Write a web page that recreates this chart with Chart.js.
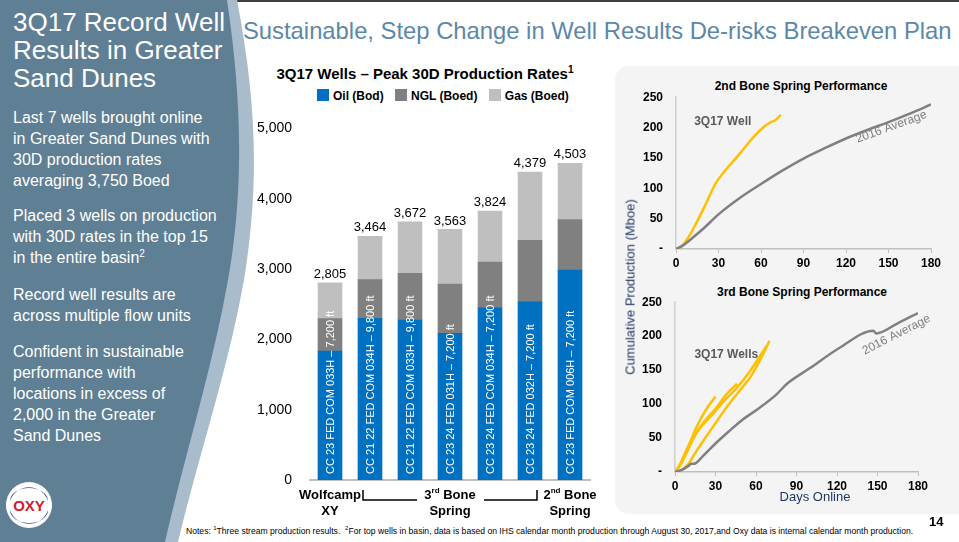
<!DOCTYPE html>
<html>
<head>
<meta charset="utf-8">
<script src="https://cdn.jsdelivr.net/npm/chart.js@4.4.0/dist/chart.umd.min.js"></script>
<style>
  html, body { margin: 0; padding: 0; }
  body { width: 959px; height: 542px; position: relative; overflow: hidden; background: #fff;
         font-family: "Liberation Sans", Arial, sans-serif; }
  .abs { position: absolute; }
  #topbar { left: 0; top: 0; width: 959px; height: 2px; background: #404040; }
  #leftTitle { left: 13px; top: 8px; color: #fff; font-size: 26px; line-height: 28px; white-space: nowrap; }
  .bullet { left: 13px; color: #fff; font-size: 16px; line-height: 21px; white-space: nowrap; }
  #header { left: 243px; top: 17px; color: #5b87a8; font-size: 23.8px; white-space: nowrap; }
  #barTitle { left: 240px; width: 370px; top: 65px; text-align: center; font-weight: bold; font-size: 15px; }
  #barLegend { left: 317px; top: 89px; font-weight: bold; font-size: 12px; white-space: nowrap; }
  #barLegend span.box { display: inline-block; width: 12px; height: 12px; vertical-align: -1px; margin-right: 4px; }
  #barLegend span.item { margin-right: 8px; }
  #rightPanel { left: 615px; top: 66px; width: 370px; height: 448px; background: #f4f4f4; border-radius: 14px; }
  .lineTitle { font-weight: bold; font-size: 12px; text-align: center; width: 260px; white-space: nowrap; }
  #yTitle { left: 630px; top: 287px; color: #203864; font-size: 13px; white-space: nowrap;
            transform: translate(-50%, -50%) rotate(-90deg); }
  #xTitle { left: 760px; width: 110px; top: 489px; text-align: center; color: #203864; font-size: 13px; }
  #notes { left: 186px; top: 525px; font-size: 8.6px; white-space: nowrap; }
  #pageNo { left: 929px; top: 514px; font-weight: bold; font-size: 13px; }
</style>
</head>
<body>
<div id="topbar" class="abs"></div>

<svg class="abs" style="left:0;top:0" width="270" height="542">
  <path d="M0,0 L237,0 C256,100 260,180 244,280 C228,370 200,450 178,542 L0,542 Z" fill="#a9bccb"/>
  <path d="M0,0 L227,0 C242,100 244,190 228,280 C212,370 186,450 165,542 L0,542 Z" fill="#5f7f95"/>
</svg>

<div id="leftTitle" class="abs">3Q17 Record Well<br>Results in Greater<br>Sand Dunes</div>
<div class="abs bullet" style="top:107px">Last 7 wells brought online<br>in Greater Sand Dunes with<br>30D production rates<br>averaging 3,750 Boed</div>
<div class="abs bullet" style="top:205px">Placed 3 wells on production<br>with 30D rates in the top 15<br>in the entire basin<sup style="font-size:10px;line-height:0">2</sup></div>
<div class="abs bullet" style="top:284px">Record well results are<br>across multiple flow units</div>
<div class="abs bullet" style="top:341px">Confident in sustainable<br>performance with<br>locations in excess of<br>2,000 in the Greater<br>Sand Dunes</div>

<svg class="abs" style="left:5px;top:481px" width="50" height="50">
  <circle cx="24" cy="24" r="23" fill="#fff"/>
  <path d="M5,20 A20,20 0 0 1 43,20 A19,13 0 0 0 5,20 Z" fill="#2a4f9a"/>
  <path d="M5,29 A20,20 0 0 0 43,29 A19,13 0 0 1 5,29 Z" fill="#2a4f9a"/>
  <text x="24" y="30" text-anchor="middle" font-family="Liberation Sans" font-weight="bold" font-size="15" fill="#d0202e">OXY</text>
</svg>

<div id="header" class="abs">Sustainable, Step Change in Well Results De-risks Breakeven Plan</div>

<div id="barTitle" class="abs">3Q17 Wells – Peak 30D Production Rates<sup style="font-size:10px;line-height:0">1</sup></div>
<div id="barLegend" class="abs">
  <span class="item"><span class="box" style="background:#0070c0"></span>Oil (Bod)</span>
  <span class="item"><span class="box" style="background:#808080"></span>NGL (Boed)</span>
  <span class="item"><span class="box" style="background:#bfbfbf"></span>Gas (Boed)</span>
</div>
<div class="abs" style="left:240px;top:102px;width:370px;height:418px">
  <canvas id="barChart" width="370" height="418"></canvas>
</div>

<div id="rightPanel" class="abs"></div>
<div class="abs lineTitle" style="left:671px;top:79px">2nd Bone Spring Performance</div>
<div class="abs lineTitle" style="left:672px;top:285px">3rd Bone Spring Performance</div>
<div class="abs" style="left:620px;top:77px;width:330px;height:198px">
  <canvas id="line2bs" width="330" height="198"></canvas>
</div>
<div class="abs" style="left:620px;top:282px;width:320px;height:216px">
  <canvas id="line3bs" width="320" height="216"></canvas>
</div>
<div id="yTitle" class="abs">Cumulative Production (Mboe)</div>
<div id="xTitle" class="abs">Days Online</div>

<div id="notes" class="abs">Notes: <sup style="font-size:6px">1</sup>Three stream production results.&nbsp; <sup style="font-size:6px">2</sup>For top wells in basin, data is based on IHS calendar month production through August 30, 2017,and Oxy data is internal calendar month production.</div>
<div id="pageNo" class="abs">14</div>

<script>
// bar chart data
const wellNames = [
  "CC 23 FED COM 033H – 7,200 ft",
  "CC 21 22 FED COM 034H – 9,800 ft",
  "CC 21 22 FED COM 033H – 9,800 ft",
  "CC 23 24 FED 031H – 7,200 ft",
  "CC 23 24 FED COM 034H – 7,200 ft",
  "CC 23 24 FED 032H – 7,200 ft",
  "CC 23 FED COM 006H – 7,200 ft"
];
const oilBod = [1835, 2300, 2275, 2085, 2450, 2535, 2985];
const nglBoed = [460, 550, 665, 700, 650, 875, 720];
const gasBoed = [510, 614, 732, 778, 724, 969, 798];
const totalLabels = ["2,805", "3,464", "3,672", "3,563", "3,824", "4,379", "4,503"];

// 2nd Bone Spring cumulative (Mboe)
const avg2bsDays = [0, 5, 13, 20, 30, 45, 60, 75, 90, 105, 120, 135, 150, 165, 180];
const avg2bsMboe = [0, 6, 21, 35, 57, 84, 107, 129, 149, 166, 182, 196, 209, 223, 238];
const well2bsDays = [0, 3, 5, 10, 15, 20, 28, 35, 45, 55, 63, 67, 70, 74];
const well2bsMboe = [0, 3, 7, 24, 46, 69, 108, 130, 157, 185, 203, 209, 212, 221];

// 3rd Bone Spring cumulative (Mboe)
const avg3bsDays = [0, 5, 10, 12, 14, 20, 30, 40, 50, 63, 75, 83, 100, 122, 147, 149, 165, 180];
const avg3bsMboe = [0, 3, 9, 12, 12, 22, 42, 60, 77, 95, 114, 130, 153, 183, 208, 204, 219, 234];
const wellA3bsDays = [0, 3, 7, 11, 15, 19, 24, 30];
const wellA3bsMboe = [0, 8, 25, 43, 62, 78, 95, 111];
const wellB3bsDays = [0, 4, 9, 16, 22, 30, 38, 46];
const wellB3bsMboe = [0, 10, 30, 58, 75, 93, 114, 130];
const wellC3bsDays = [0, 5, 10, 15, 20, 30, 40, 50, 56, 63, 70];
const wellC3bsMboe = [0, 3, 12, 28, 43, 72, 100, 125, 140, 165, 193];
const wellD3bsDays = [0, 4, 8, 13, 20, 28, 36, 45, 55, 62, 68];
const wellD3bsMboe = [0, 12, 30, 50, 68, 85, 104, 122, 147, 168, 186];

const xyPairs = (xs, ys) => xs.map((x, i) => ({ x: x, y: ys[i] }));

// labels written on and under the bars
const barLabels = {
  id: "barLabels",
  afterDatasetsDraw(chart) {
    const ctx = chart.ctx;
    const oilMeta = chart.getDatasetMeta(0);
    const gasMeta = chart.getDatasetMeta(2);
    oilMeta.data.forEach((bar, i) => {
      ctx.save();
      ctx.translate(bar.x + 1, bar.base - 6);
      ctx.rotate(-Math.PI / 2);
      ctx.fillStyle = "#fff";
      ctx.font = '11px "Liberation Sans"';
      ctx.textAlign = "left";
      ctx.textBaseline = "middle";
      ctx.fillText(wellNames[i], 0, 0);
      ctx.restore();

      const top = gasMeta.data[i];
      ctx.save();
      ctx.fillStyle = "#000";
      ctx.font = '13px "Liberation Sans"';
      ctx.textAlign = "center";
      ctx.textBaseline = "bottom";
      ctx.fillText(totalLabels[i], top.x, top.y - 2);
      ctx.restore();
    });

    // formation groups below the axis
    const xs = chart.scales.x;
    const y0 = chart.chartArea.bottom;
    const bold = 'bold 13px "Liberation Sans", sans-serif';
    const sup = 'bold 8px "Liberation Sans", sans-serif';
    ctx.save();
    ctx.fillStyle = "#000";
    ctx.textBaseline = "middle";
    ctx.textAlign = "center";
    ctx.font = bold;
    ctx.fillText("Wolfcamp", xs.getPixelForValue(0), y0 + 15);
    ctx.fillText("XY", xs.getPixelForValue(0), y0 + 31);
    ctx.fillText("Spring", xs.getPixelForValue(3), y0 + 31);
    ctx.fillText("Spring", xs.getPixelForValue(6), y0 + 31);

    function supLabel(num, s, rest, cx, cy) {
      ctx.font = bold;
      const w1 = ctx.measureText(num).width;
      const w3 = ctx.measureText(rest).width;
      ctx.font = sup;
      const w2 = ctx.measureText(s).width;
      const x = cx - (w1 + w2 + w3) / 2;
      ctx.textAlign = "left";
      ctx.font = bold;
      ctx.fillText(num, x, cy);
      ctx.font = sup;
      ctx.fillText(s, x + w1, cy - 4);
      ctx.font = bold;
      ctx.fillText(rest, x + w1 + w2, cy);
      ctx.textAlign = "center";
    }
    supLabel("3", "rd", " Bone", xs.getPixelForValue(3), y0 + 15);
    supLabel("2", "nd", " Bone", xs.getPixelForValue(6), y0 + 15);

    // bracket around the 3rd Bone Spring wells
    const bl = xs.getPixelForValue(1) - 7;
    const br = xs.getPixelForValue(5) + 7;
    const mid = xs.getPixelForValue(3);
    ctx.strokeStyle = "#000";
    ctx.lineWidth = 1.5;
    ctx.beginPath();
    ctx.moveTo(bl, y0 + 10); ctx.lineTo(bl, y0 + 20); ctx.lineTo(mid - 33, y0 + 20);
    ctx.moveTo(mid + 34, y0 + 20); ctx.lineTo(br, y0 + 20); ctx.lineTo(br, y0 + 10);
    ctx.stroke();
    ctx.restore();
  }
};

new Chart(document.getElementById("barChart"), {
  type: "bar",
  data: {
    labels: wellNames,
    datasets: [
      { label: "Oil (Bod)", data: oilBod, backgroundColor: "#0070c0" },
      { label: "NGL (Boed)", data: nglBoed, backgroundColor: "#808080" },
      { label: "Gas (Boed)", data: gasBoed, backgroundColor: "#bfbfbf" }
    ]
  },
  options: {
    responsive: false,
    animation: false,
    barThickness: 24,
    layout: { padding: { left: 0, right: 20, top: 16, bottom: 0 } },
    plugins: { legend: { display: false }, tooltip: { enabled: false } },
    scales: {
      x: {
        stacked: true,
        grid: { display: false, drawTicks: false },
        border: { display: true, color: "#bfbfbf", width: 2 },
        ticks: { display: false },
        afterFit(scale) { scale.height = 40; }
      },
      y: {
        stacked: true,
        min: 0, max: 5000,
        grid: { display: false, drawTicks: false },
        border: { display: false },
        ticks: {
          stepSize: 1000, padding: 18, color: "#000",
          font: { family: "Liberation Sans", size: 14 },
          callback: v => v.toLocaleString("en-US")
        },
        afterFit(scale) { scale.width = 70; }
      }
    }
  },
  plugins: [barLabels]
});

// annotations on the line charts
function lineNotes(notes) {
  return {
    id: "lineNotes",
    afterDatasetsDraw(chart) {
      const ctx = chart.ctx;
      notes.forEach(n => {
        ctx.save();
        ctx.translate(chart.scales.x.getPixelForValue(n.day), chart.scales.y.getPixelForValue(n.val));
        ctx.rotate(n.angle * Math.PI / 180);
        ctx.fillStyle = n.color;
        ctx.font = n.font;
        ctx.textAlign = "center";
        ctx.textBaseline = "middle";
        ctx.fillText(n.text, 0, 0);
        ctx.restore();
      });
    }
  };
}

function lineOptions(yWidth, rightPad) {
  return {
    responsive: false,
    animation: false,
    layout: { padding: { left: 0, right: rightPad, top: 6, bottom: 0 } },
    plugins: { legend: { display: false }, tooltip: { enabled: false } },
    elements: { point: { radius: 0 } },
    scales: {
      x: {
        type: "linear", min: 0, max: 180,
        grid: { drawOnChartArea: false, drawTicks: true, tickLength: 4, color: "#bfbfbf" },
        border: { color: "#bfbfbf", width: 1.5 },
        ticks: { stepSize: 30, padding: 3, color: "#000", maxRotation: 0,
                 font: { family: "Liberation Sans", size: 12, weight: "bold" } },
        afterFit(scale) { scale.height = 26; }
      },
      y: {
        min: 0, max: 250,
        grid: { drawOnChartArea: false, drawTicks: false },
        border: { color: "#d0d0d0", width: 1.5 },
        ticks: { stepSize: 50, padding: 13, color: "#000",
                 font: { family: "Liberation Sans", size: 12, weight: "bold" },
                 callback: v => v === 0 ? "-" : v },
        afterFit(scale) { scale.width = yWidth; }
      }
    }
  };
}

const grayLine = { borderColor: "#808080", borderWidth: 2.5, cubicInterpolationMode: "monotone" };
const goldLine = { borderColor: "#ffc000", borderWidth: 2.5, cubicInterpolationMode: "monotone" };

new Chart(document.getElementById("line2bs"), {
  type: "line",
  data: {
    datasets: [
      Object.assign({ label: "2016 Average", data: xyPairs(avg2bsDays, avg2bsMboe) }, grayLine),
      Object.assign({ label: "3Q17 Well", data: xyPairs(well2bsDays, well2bsMboe) }, goldLine)
    ]
  },
  options: lineOptions(56, 19),
  plugins: [lineNotes([
    { text: "3Q17 Well", day: 33, val: 210, angle: 0, color: "#595959", font: 'bold 12px "Liberation Sans"' },
    { text: "2016 Average", day: 152, val: 201, angle: -20, color: "#808080", font: '12px "Liberation Sans"' }
  ])]
});

new Chart(document.getElementById("line3bs"), {
  type: "line",
  data: {
    datasets: [
      Object.assign({ label: "2016 Average", data: xyPairs(avg3bsDays, avg3bsMboe) }, grayLine),
      Object.assign({ label: "3Q17 Well A", data: xyPairs(wellA3bsDays, wellA3bsMboe) }, goldLine),
      Object.assign({ label: "3Q17 Well B", data: xyPairs(wellB3bsDays, wellB3bsMboe) }, goldLine),
      Object.assign({ label: "3Q17 Well C", data: xyPairs(wellC3bsDays, wellC3bsMboe) }, goldLine),
      Object.assign({ label: "3Q17 Well D", data: xyPairs(wellD3bsDays, wellD3bsMboe) }, goldLine)
    ]
  },
  options: lineOptions(55, 22),
  plugins: [lineNotes([
    { text: "3Q17 Wells", day: 38, val: 172, angle: 0, color: "#595959", font: 'bold 12px "Liberation Sans"' },
    { text: "2016 Average", day: 164, val: 202, angle: -27, color: "#808080", font: '12px "Liberation Sans"' }
  ])]
});
</script>
</body>
</html>
